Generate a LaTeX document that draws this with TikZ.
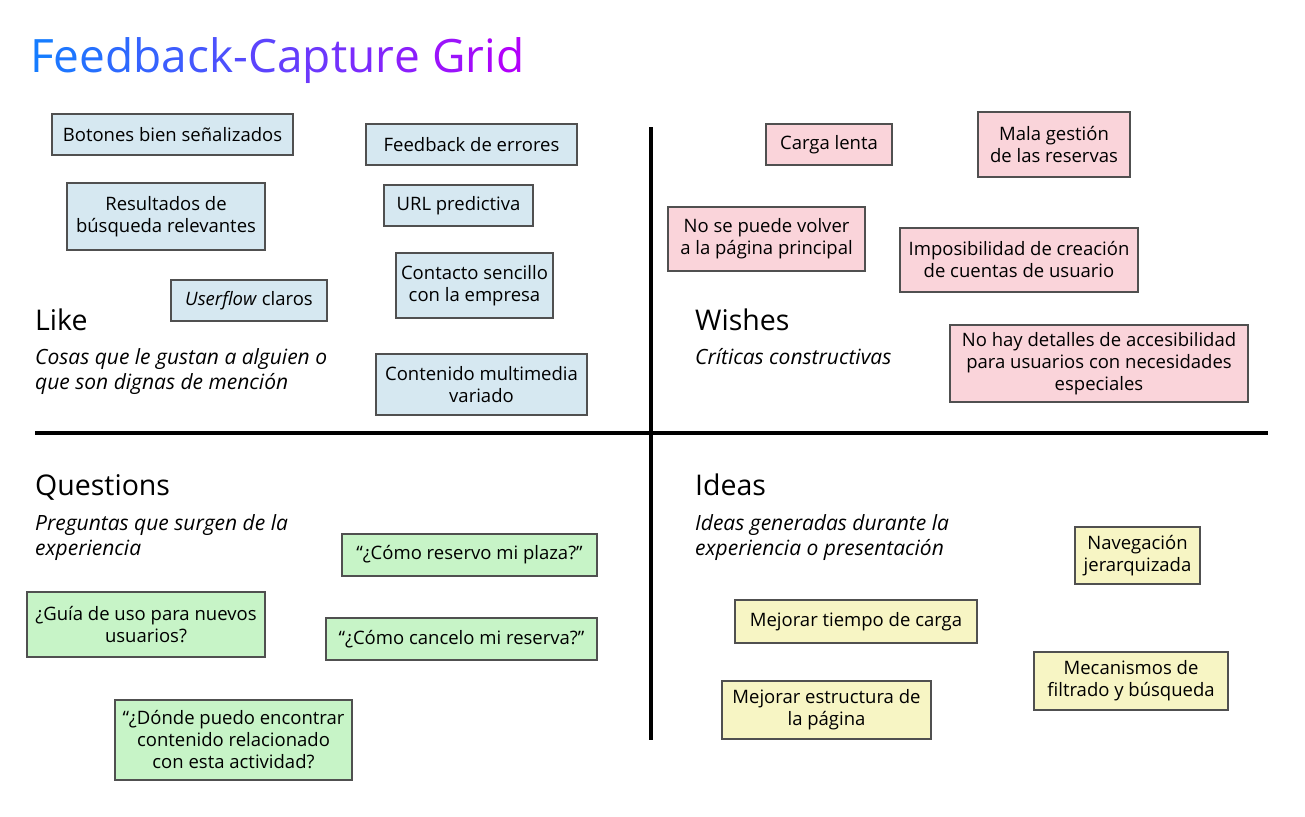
\documentclass[tikz,border=0pt]{standalone}
\usepackage{fontspec}
\setmainfont{Open Sans}
\usepackage{xcolor}
\usetikzlibrary{positioning}

\definecolor{titleblue}{RGB}{22,124,255}
\definecolor{titlepurple}{RGB}{178,0,250}
\definecolor{likeblue}{RGB}{214,232,241}
\definecolor{wishpink}{RGB}{250,212,218}
\definecolor{questgreen}{RGB}{199,244,199}
\definecolor{ideayellow}{RGB}{247,245,196}
\definecolor{notegrey}{RGB}{80,80,80}

% one letter of the title, coloured along the gradient
\newcommand{\gl}[2]{\textcolor{titlepurple!#1!titleblue}{#2}}

\begin{document}
\begin{tikzpicture}[
        x=1pt, y=-1pt,
        note/.style={rectangle, draw=notegrey, line width=1.2pt, align=center, inner sep=0pt, font=\fontsize{18.5}{22}\selectfont},
        like/.style={note, fill=likeblue},
        wish/.style={note, fill=wishpink},
        quest/.style={note, fill=questgreen},
        idea/.style={note, fill=ideayellow},
        heading/.style={anchor=base west, inner sep=0pt, font=\fontsize{28.5}{32}\selectfont},
        subtitle/.style={anchor=base west, inner sep=0pt, align=left, font=\fontsize{21}{25}\selectfont\itshape},
        axis/.style={line width=4pt, black}
      ]
        \useasboundingbox (0,0) rectangle (1305,816);

        % Title
        \node[anchor=base west, inner sep=0pt, font=\fontsize{46}{50}\selectfont] (title) at (30,72)
          {\gl{0}{F}\gl{5}{e}\gl{10}{e}\gl{15}{d}\gl{20}{b}\gl{25}{a}\gl{30}{c}\gl{35}{k}\gl{40}{-}\gl{45}{C}\gl{50}{a}\gl{55}{p}\gl{60}{t}\gl{65}{u}\gl{70}{r}\gl{75}{e} \gl{85}{G}\gl{90}{r}\gl{95}{i}\gl{100}{d}};

        % Axes
        \coordinate (vtop) at (651,127);
        \coordinate (vbot) at (651,740);
        \coordinate (hleft) at (35,433);
        \coordinate (hright) at (1268,433);
        \draw[axis] (vtop) -- (vbot);
        \draw[axis] (hleft) -- (hright);

        % Like
        \node[heading] (likehead) at (35,330) {Like};
        \node[subtitle] (likesub) at (35,389) {Cosas que le gustan a alguien o\\que son dignas de mención};
        \node[like, minimum width=241, minimum height=41] (botones) at (172.5,134.5) {Botones bien señalizados};
        \node[like, minimum width=211, minimum height=41] (errores) at (471.5,144.5) {Feedback de errores};
        \node[like, minimum width=198, minimum height=67] (resultados) at (166,216.5) {Resultados de\\búsqueda relevantes};
        \node[like, minimum width=149, minimum height=41] (url) at (458.5,205.5) {URL predictiva};
        \node[like, minimum width=157, minimum height=65] (contacto) at (474.5,285.5) {Contacto sencillo\\con la empresa};
        \node[like, minimum width=156, minimum height=41] (userflow) at (249,300.5) {\textit{Userflow} claros};
        \node[like, minimum width=211, minimum height=61] (multimedia) at (481.5,384.5) {Contenido multimedia\\variado};

        % Wishes
        \node[heading] (wishhead) at (695,330) {Wishes};
        \node[subtitle] (wishsub) at (695,364) {Críticas constructivas};
        \node[wish, minimum width=126, minimum height=41] (carga) at (829,144.5) {Carga lenta};
        \node[wish, minimum width=152, minimum height=65] (reservas) at (1054,144.5) {Mala gestión\\de las reservas};
        \node[wish, minimum width=197, minimum height=64] (volver) at (766.5,239) {No se puede volver\\a la página principal};
        \node[wish, minimum width=238, minimum height=64] (cuentas) at (1019,260) {Imposibilidad de creación\\de cuentas de usuario};
        \node[wish, minimum width=298, minimum height=77] (accesibilidad) at (1099,363.5) {No hay detalles de accesibilidad\\para usuarios con necesidades\\especiales};

        % Questions
        \node[heading] (questhead) at (35,495) {Questions};
        \node[subtitle] (questsub) at (35,555) {Preguntas que surgen de la\\experiencia};
        \node[quest, minimum width=255, minimum height=42] (plaza) at (469.5,555) {“¿Cómo reservo mi plaza?”};
        \node[quest, minimum width=238, minimum height=65] (guia) at (146,624.5) {¿Guía de uso para nuevos\\usuarios?};
        \node[quest, minimum width=271, minimum height=42] (cancelo) at (461.5,639) {“¿Cómo cancelo mi reserva?”};
        \node[quest, minimum width=237, minimum height=80] (donde) at (233.5,740) {“¿Dónde puedo encontrar\\contenido relacionado\\con esta actividad?};

        % Ideas
        \node[heading] (ideahead) at (695,495) {Ideas};
        \node[subtitle] (ideasub) at (695,555) {Ideas generadas durante la\\experiencia o presentación};
        \node[idea, minimum width=125, minimum height=57] (navegacion) at (1137.5,555.5) {Navegación\\jerarquizada};
        \node[idea, minimum width=242, minimum height=43] (tiempo) at (856,621.5) {Mejorar tiempo de carga};
        \node[idea, minimum width=194, minimum height=58] (filtrado) at (1131,681) {Mecanismos de\\filtrado y búsqueda};
        \node[idea, minimum width=209, minimum height=58] (estructura) at (826.5,710) {Mejorar estructura de\\la página};
      \end{tikzpicture}
\end{document}
